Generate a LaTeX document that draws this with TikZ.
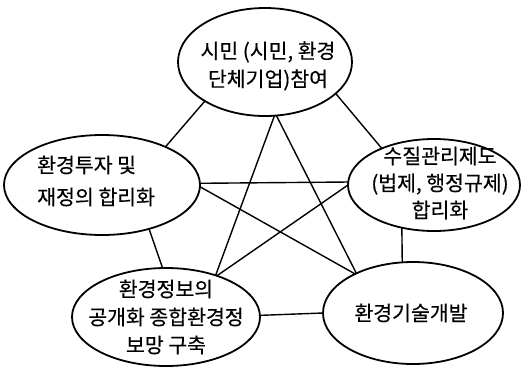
\documentclass[tikz,border=0pt]{standalone}
\usepackage{fontspec}
\setmainfont{Noto Sans CJK KR}[FakeBold=0.4]
\usetikzlibrary{shapes.geometric}
\begin{document}
\begin{tikzpicture}[x=1pt,y=-1pt,
  ell/.style={ellipse,draw,line width=1.8pt,inner sep=0pt,outer sep=0pt},
  lbl/.style={align=center,inner sep=0pt,font=\fontsize{20.5}{28}\selectfont},
  conn/.style={line width=1.4pt}]
\useasboundingbox (0,0) rectangle (521,367);
% ellipses
\node[ell,minimum width=174pt,minimum height=108pt] (T) at (265,62) {};
\node[ell,minimum width=196pt,minimum height=100pt] (L) at (102,185) {};
\node[ell,minimum width=172pt,minimum height=92pt] (R) at (434,185) {};
\node[ell,minimum width=188pt,minimum height=98pt] (BL) at (166,317) {};
\node[ell,minimum width=180pt,minimum height=102pt] (BR) at (413,313) {};
% labels
\node[lbl] (Tt) at (268,66) {시민 (시민, 환경\\단체기업)참여};
\node[lbl,align=left,anchor=west,font=\fontsize{20.5}{32}\selectfont] (Lt) at (37,181) {환경투자 및\\재정의 합리화};
\node[lbl,font=\fontsize{20.5}{27}\selectfont] (Rt) at (440,183) {수질관리제도\\(법제, 행정규제)\\합리화};
\node[lbl] (BLt) at (166,317) {환경정보의\\공개화 종합환경정\\보망 구축};
\node[lbl] (BRt) at (411,313) {환경기술개발};
% connectors
\draw[conn] (T.213) -- (L.31);
\draw[conn] (T.336) -- (R.145.5);
\draw[conn] (T.280) -- (BL.40);
\draw[conn] (T.282) -- (BR.145.4);
\draw[conn] (L.1.8) -- (R.178);
\draw[conn] (L.359.4) -- (BR.146);
\draw[conn] (L.317) -- (BL.94.7);
\draw[conn] (R.180) -- (BL.39);
\draw[conn] (R.233) -- (BR.102.5);
\draw[conn] (BL.1.8) -- (BR.180);
\end{tikzpicture}
\end{document}
